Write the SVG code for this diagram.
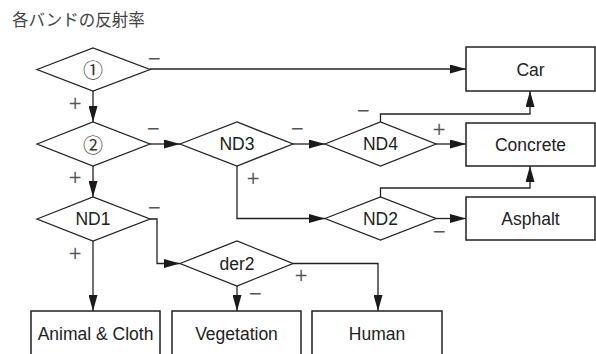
<svg xmlns="http://www.w3.org/2000/svg" width="596" height="354" viewBox="0 0 596 354">
<defs>
<marker id="ah" markerUnits="userSpaceOnUse" markerWidth="16" markerHeight="9" refX="16" refY="4.5" orient="auto">
<path d="M0,0 L16,4.5 L0,9 z" fill="#1a1a1a"/>
</marker>
<style>
.dia{fill:#fff;stroke:#222;stroke-width:1.3}
.box{fill:#fff;stroke:#222;stroke-width:1.5}
.lbl{font-family:"Liberation Sans",Arial,sans-serif;font-size:17.5px;fill:#222;text-anchor:middle}
.num{font-family:"Noto Sans CJK JP","Noto Sans",sans-serif;font-size:20px;fill:#333;text-anchor:middle;dominant-baseline:central}
.sg{font-family:"DejaVu Sans","Liberation Sans",sans-serif;font-size:17px;fill:#555;text-anchor:middle;dominant-baseline:central}
.con{fill:none;stroke:#222;stroke-width:1.3;marker-end:url(#ah)}
.title{font-family:"Noto Sans CJK JP",sans-serif;font-size:16.5px;fill:#444}
</style>
</defs>
<rect width="596" height="354" fill="#fff"/>
<text class="title" x="12" y="26">各バンドの反射率</text>

<g id="connectors">
<path class="con" d="M150,69 H466"/>
<path class="con" d="M93,91 V122"/>
<path class="con" d="M150,144 H180"/>
<path class="con" d="M293,144 H325"/>
<path class="con" d="M436,144 H466"/>
<path class="con" d="M380.5,122 V114 H530 V91"/>
<path class="con" d="M93,166 V197"/>
<path class="con" d="M237,166 V218.5 H325"/>
<path class="con" d="M380.5,197 V188 H530 V166"/>
<path class="con" d="M436,218.5 H466"/>
<path class="con" d="M150,219 H157 V263.5 H180"/>
<path class="con" d="M93,241 V311"/>
<path class="con" d="M237,286 V311"/>
<path class="con" d="M293,263.5 H378 V311"/>
</g>

<g id="signs">
<text class="sg" x="154" y="58">−</text>
<text class="sg" x="75" y="103">+</text>
<text class="sg" x="153" y="128">−</text>
<text class="sg" x="75" y="177">+</text>
<text class="sg" x="297" y="128">−</text>
<text class="sg" x="253" y="178">+</text>
<text class="sg" x="363" y="110">−</text>
<text class="sg" x="439" y="129">+</text>
<text class="sg" x="439" y="231">−</text>
<text class="sg" x="154" y="207">−</text>
<text class="sg" x="75" y="253">+</text>
<text class="sg" x="301" y="275">+</text>
<text class="sg" x="255" y="293">−</text>
</g>

<g id="d1"><polygon class="dia" points="37,69.5 93,48 150,69.5 93,91"/><text class="num" x="93" y="69.5">①</text></g>
<g id="d2"><polygon class="dia" points="37,144 93,122 150,144 93,166"/><text class="num" x="93" y="144">②</text></g>
<g id="nd3"><polygon class="dia" points="180,144 237,122 293,144 237,166"/><text class="lbl" x="237" y="150">ND3</text></g>
<g id="nd4"><polygon class="dia" points="325,144 380.5,122 436,144 380.5,166"/><text class="lbl" x="380.5" y="150">ND4</text></g>
<g id="nd2"><polygon class="dia" points="325,218.5 380.5,197 436,218.5 380.5,240"/><text class="lbl" x="380.5" y="224.5">ND2</text></g>
<g id="nd1"><polygon class="dia" points="37,219 93,197 150,219 93,241"/><text class="lbl" x="93" y="225">ND1</text></g>
<g id="der2"><polygon class="dia" points="180,263.5 237,241 293,263.5 237,286"/><text class="lbl" x="237" y="269.5">der2</text></g>

<g id="car"><rect class="box" x="466" y="47" width="129" height="44"/><text class="lbl" x="530.5" y="75.5">Car</text></g>
<g id="concrete"><rect class="box" x="466" y="123" width="129" height="43"/><text class="lbl" x="530.5" y="150.5">Concrete</text></g>
<g id="asphalt"><rect class="box" x="466" y="197" width="129" height="43"/><text class="lbl" x="530.5" y="224.5">Asphalt</text></g>
<g id="animal"><rect class="box" x="31" y="311" width="129" height="46"/><text class="lbl" x="95.5" y="340">Animal &amp; Cloth</text></g>
<g id="vegetation"><rect class="box" x="172" y="311" width="129" height="46"/><text class="lbl" x="236.5" y="340">Vegetation</text></g>
<g id="human"><rect class="box" x="312" y="311" width="130" height="46"/><text class="lbl" x="377" y="340">Human</text></g>
</svg>
